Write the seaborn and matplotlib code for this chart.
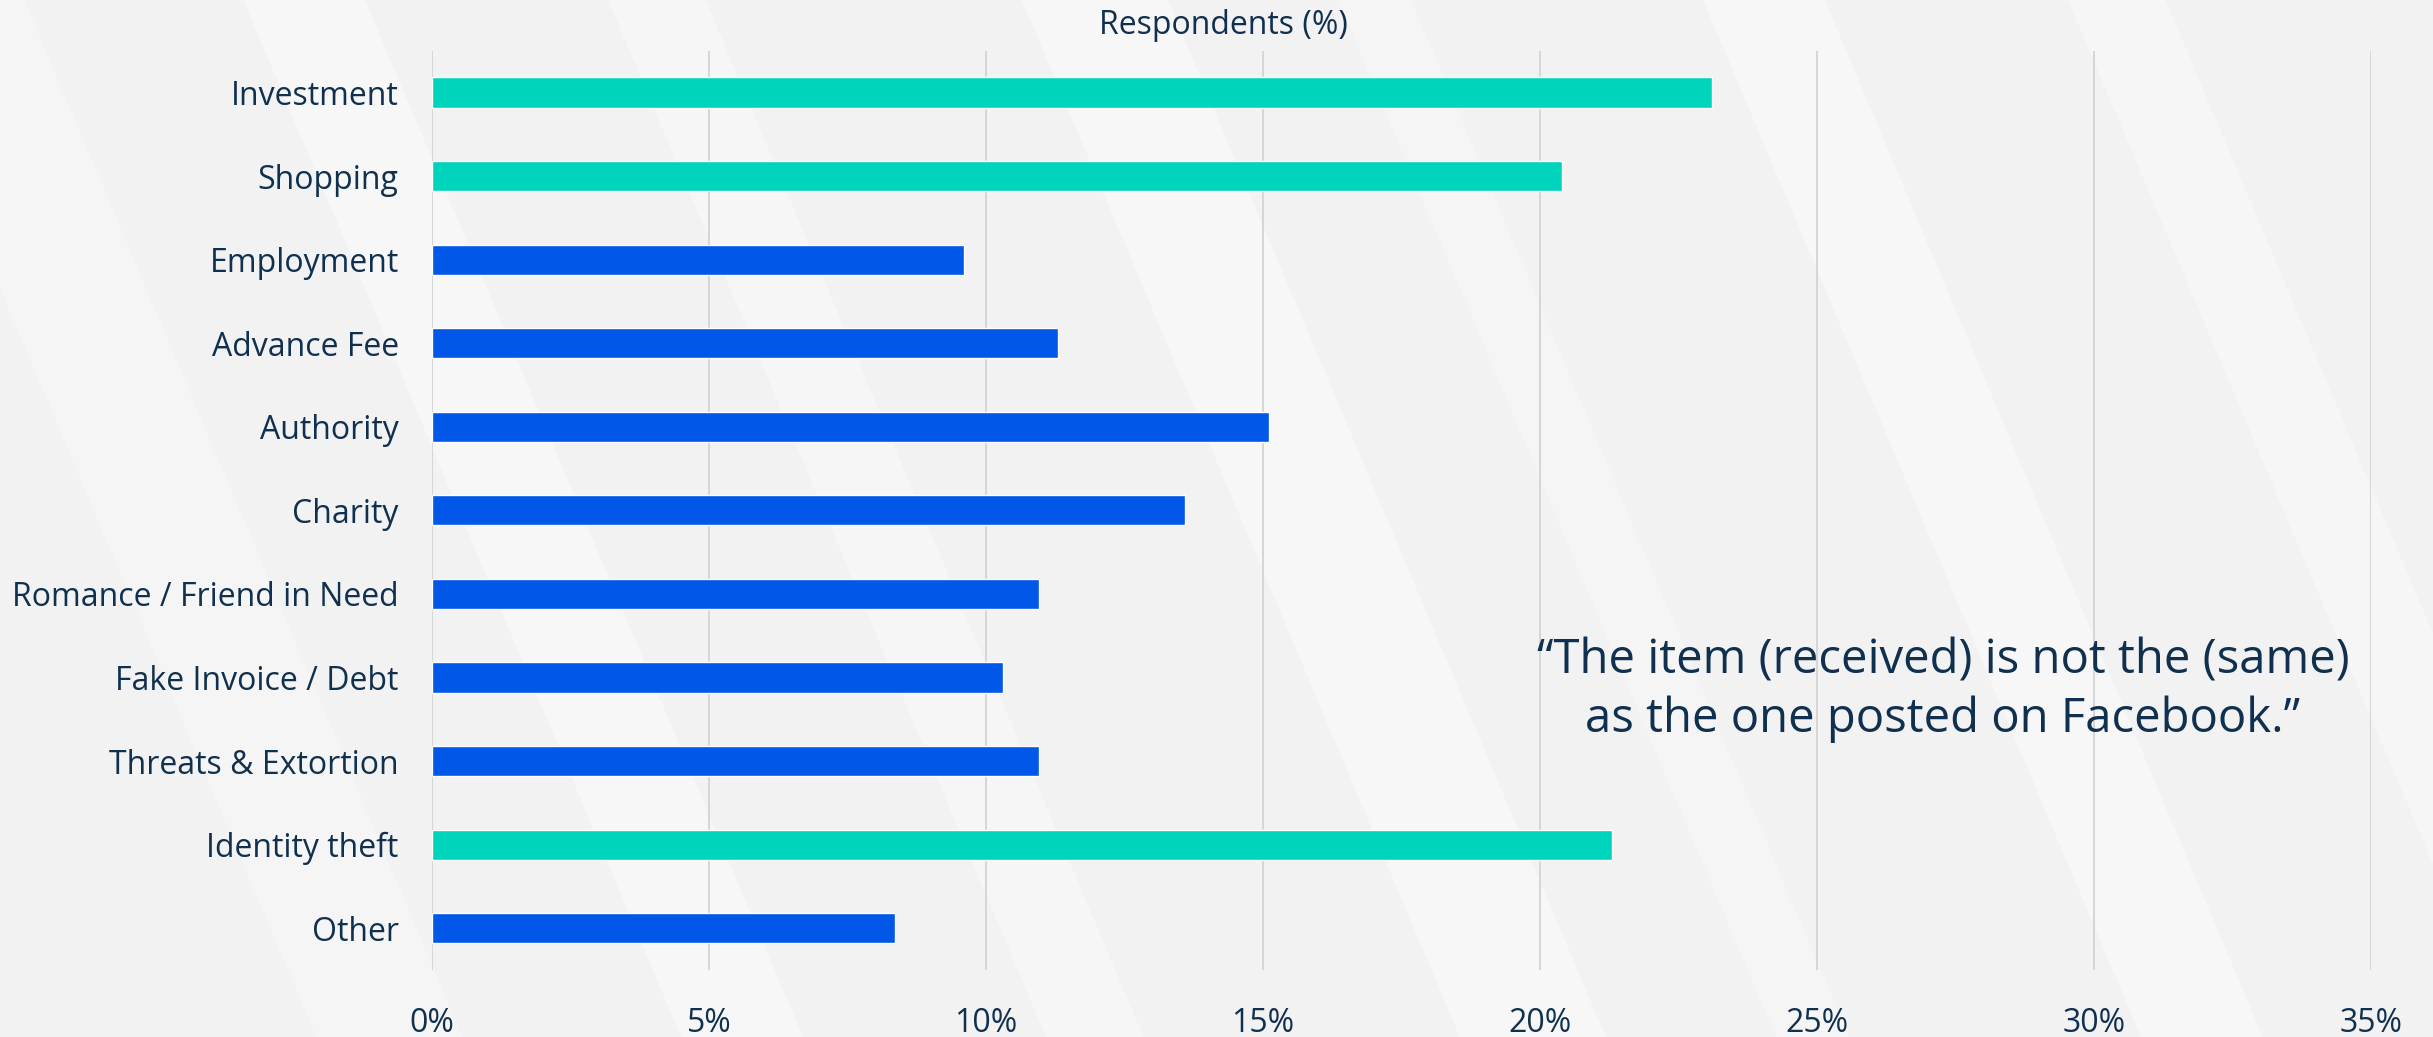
import matplotlib
matplotlib.use("Agg")
import matplotlib.pyplot as plt
import seaborn as sns
import pandas as pd
import numpy as np
from matplotlib.patches import Polygon

categories = ["Investment", "Shopping", "Employment", "Advance Fee", "Authority",
              "Charity", "Romance / Friend in Need", "Fake Invoice / Debt",
              "Threats & Extortion", "Identity theft", "Other"]
values = [23.1, 20.4, 9.6, 11.3, 15.1, 13.6, 10.95, 10.3, 10.95, 21.3, 8.35]
highlight = [True, True, False, False, False, False, False, False, False, True, False]
x_ticks = [0, 5, 10, 15, 20, 25, 30, 35]
x_tick_labels = ["0%", "5%", "10%", "15%", "20%", "25%", "30%", "35%"]
axis_title = "Respondents (%)"
quote = "\u201cThe item (received) is not the (same)\nas the one posted on Facebook.\u201d"

TEAL = "#00D4BC"
BLUE = "#0057E8"
TEXT = "#10304F"

sns.set_theme(style="white")
plt.rcParams["font.family"] = ["Open Sans", "DejaVu Sans"]

df = pd.DataFrame({"category": categories, "value": values})
palette = {c: (TEAL if h else BLUE) for c, h in zip(categories, highlight)}

fig = plt.figure(figsize=(24.33, 10.37), dpi=100)
fig.patch.set_facecolor("#f2f2f2")

# subtle diagonal background streaks
bg = fig.add_axes([0, 0, 1, 1], zorder=-10)
bg.set_xlim(0, 1); bg.set_ylim(0, 1); bg.axis("off")
streaks = [(0.10, 0.05, 0.9), (0.25, 0.04, 0.7), (0.42, 0.06, 0.8), (0.55, 0.03, 0.6),
           (0.70, 0.05, 0.9), (0.85, 0.04, 0.7), (-0.05, 0.06, 0.6)]
for x0, w, a in streaks:
    poly = Polygon([[x0, 1], [x0 + w, 1], [x0 + w + 0.18, 0], [x0 + 0.18, 0]],
                   closed=True, facecolor="white", edgecolor="none", alpha=a * 0.5)
    bg.add_patch(poly)

ax = fig.add_axes([432 / 2433, 1 - 970 / 1037, (2371 - 432) / 2433, (970 - 50.7) / 1037])
ax.set_facecolor("none")

sns.barplot(data=df, y="category", x="value", hue="category", palette=palette,
            legend=False, orient="h", width=0.36, saturation=1, ax=ax, zorder=3)

ax.set_xlim(0, 35)
ax.set_ylim(10.5, -0.5)
ax.set_xticks(x_ticks)
ax.set_xticklabels(x_tick_labels)
ax.set_xlabel("")
ax.set_ylabel("")
for s in ax.spines.values():
    s.set_visible(False)
ax.grid(axis="x", color="#d6d6d6", linewidth=1.4, zorder=0)
ax.grid(axis="y", visible=False)
ax.set_axisbelow(True)
ax.tick_params(axis="y", length=0, pad=24, labelsize=23, labelcolor=TEXT)
ax.tick_params(axis="x", length=0, pad=27, labelsize=23, labelcolor=TEXT)

fig.text(1223 / 2433, 1 - 25 / 1037, axis_title, ha="center", va="center",
         fontsize=23, color=TEXT)
fig.text(1943 / 2433, 1 - 690 / 1037, quote, ha="center", va="center",
         fontsize=34, color=TEXT, linespacing=1.3)

fig.savefig("out.png", dpi=100, facecolor=fig.get_facecolor())
